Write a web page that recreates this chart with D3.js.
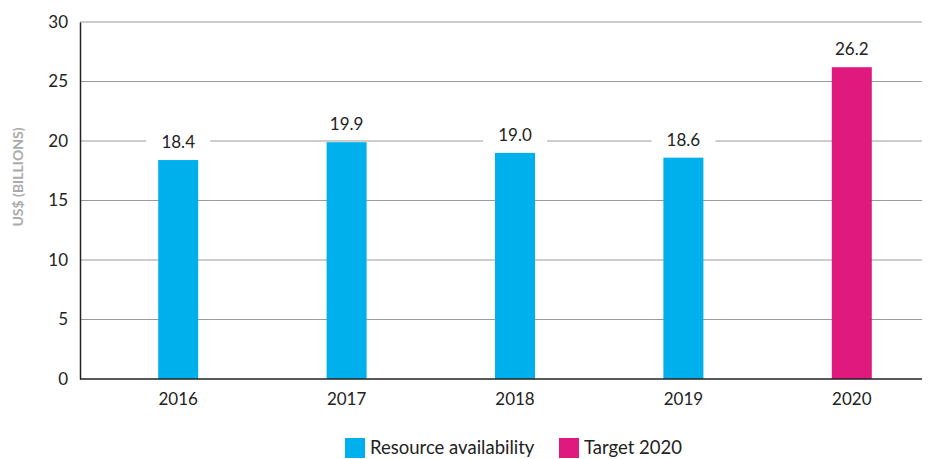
<!DOCTYPE html>
<html>
<head>
<meta charset="utf-8">
<script src="https://cdn.jsdelivr.net/npm/d3@7"></script>
<style>
  body { margin: 0; background: #fff; }
  text { font-family: Lato, "Open Sans", sans-serif; }
</style>
</head>
<body>
<svg id="chart"></svg>
<script>
//chart data
var years = ['2016', '2017', '2018', '2019', '2020'];
var values = [18.4, 19.9, 19.0, 18.6, 26.2];
var series = ['Resource availability', 'Resource availability', 'Resource availability', 'Resource availability', 'Target 2020'];
var legendNames = ['Resource availability', 'Target 2020'];
var yTicks = [0, 5, 10, 15, 20, 25, 30];

function barChart() {
    var svg = d3.select('#chart')
        .attr('width', 938)
        .attr('height', 459);

    var margin = {top: 22, right: 16, bottom: 80, left: 80},
        width = +svg.attr('width') - margin.left - margin.right,
        height = +svg.attr('height') - margin.top - margin.bottom;

    var canvas = svg.append('g')
        .attr('transform', 'translate(' + margin.left + ',' + margin.top + ')');

    //bands are shifted a bit right, as in the original layout
    var x = d3.scaleBand().domain(years).range([14, width + 14]).paddingInner(0.7625).paddingOuter(0.38125);
    var y = d3.scaleLinear().domain([0, 30]).range([height, 0]);
    var color = d3.scaleOrdinal().domain(legendNames).range(['#00b0ec', '#e0197e']);

    //gridlines
    canvas.append('g')
        .selectAll('line').data(yTicks.slice(1)).enter().append('line')
            .attr('x1', 0).attr('x2', width)
            .attr('y1', d => y(d)).attr('y2', d => y(d))
            .attr('stroke', '#9a9a9a').attr('stroke-width', 1);

    //y axis
    var yAxis = canvas.append('g')
        .call(d3.axisLeft(y).tickValues(yTicks).tickSize(0).tickPadding(12));
    yAxis.select('.domain').attr('stroke', '#222').attr('stroke-width', 1.5);
    yAxis.selectAll('text').attr('font-size', 17).attr('fill', '#222')
        .style('font-family', 'Lato, sans-serif');

    //bars
    canvas.append('g')
        .selectAll('rect').data(years).enter().append('rect')
            .attr('x', d => x(d))
            .attr('width', x.bandwidth())
            .attr('y', (d, i) => y(values[i]))
            .attr('height', (d, i) => height - y(values[i]))
            .attr('fill', (d, i) => color(series[i]));

    //x axis
    var xAxis = canvas.append('g')
        .attr('transform', 'translate(0,' + height + ')')
        .call(d3.axisBottom(x).tickSize(0).tickPadding(14));
    xAxis.select('.domain').attr('stroke', '#222').attr('stroke-width', 1.5)
        .attr('d', 'M0,0H' + width);
    xAxis.selectAll('text').attr('font-size', 17).attr('fill', '#222')
        .style('font-family', 'Lato, sans-serif');

    //value labels with white backing
    var labels = canvas.append('g')
        .selectAll('g').data(years).enter().append('g')
            .attr('transform', (d, i) => 'translate(' + (x(d) + x.bandwidth() / 2) + ',' + (y(values[i]) - 12) + ')');
    labels.append('rect')
        .attr('x', -32).attr('y', -20).attr('width', 64).attr('height', 24)
        .attr('fill', '#fff');
    labels.append('text')
        .attr('text-anchor', 'middle')
        .attr('font-size', 17)
        .attr('fill', '#222')
        .text((d, i) => values[i].toFixed(1));

    //y axis title
    svg.append('text')
        .attr('transform', 'translate(23,177) rotate(-90)')
        .attr('text-anchor', 'middle')
        .attr('font-size', 14)
        .attr('font-weight', 'bold')
        .attr('fill', '#ababab')
        .text('US$ (BILLIONS)');

    //legend
    var legend = svg.append('g').attr('transform', 'translate(345,438)');
    var offsets = [0, 214];
    var item = legend.selectAll('g').data(legendNames).enter().append('g')
        .attr('transform', (d, i) => 'translate(' + offsets[i] + ',0)');
    item.append('rect').attr('width', 20).attr('height', 20).attr('fill', d => color(d));
    item.append('text').attr('x', 25).attr('y', 16)
        .attr('font-size', 18.5).attr('fill', '#222').text(d => d);
}

barChart();
</script>
</body>
</html>
